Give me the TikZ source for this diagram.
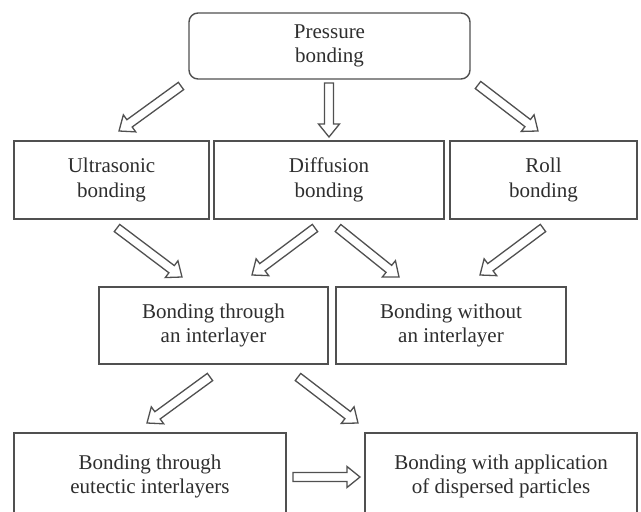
\documentclass[tikz,border=0pt]{standalone}
\usepackage{fontspec}
\setmainfont{Liberation Serif}
\usetikzlibrary{calc}
\definecolor{txt}{HTML}{2E2E2E}
\definecolor{ln}{HTML}{505050}
\tikzset{
  box/.style={draw=ln, line width=1.4pt, text=txt, align=center,
    font=\fontsize{21}{24.5}\selectfont, inner sep=0pt},
  barrow/.style={draw=ln, line width=1.3pt, fill=white, line join=miter},
}
\newcommand\blockarrow[2]{%
  \coordinate (tmpH) at ($(#2)!13pt!(#1)$);
  \draw[barrow] ($(#1)!4.5pt!90:(#2)$) -- ($(tmpH)!4.5pt!90:(#2)$)
    -- ($(tmpH)!10.5pt!90:(#2)$) -- (#2) -- ($(tmpH)!10.5pt!-90:(#2)$)
    -- ($(tmpH)!4.5pt!-90:(#2)$) -- ($(#1)!4.5pt!-90:(#2)$) -- cycle;}
\begin{document}
\begin{tikzpicture}[x=1pt,y=-1pt]
\path[use as bounding box, clip] (0,0) rectangle (641,512);
\fill[white] (0,0) rectangle (641,512);
% boxes
\node[box, minimum width=281, minimum height=66, rounded corners=9] (P) at (329.5,46) {Pressure\\bonding};
\node[box, minimum width=195, minimum height=78] (U) at (111.5,180) {Ultrasonic\\bonding};
\node[box, minimum width=230, minimum height=78] (D) at (329,180) {Diffusion\\bonding};
\node[box, minimum width=187, minimum height=78] (R) at (543.5,180) {Roll\\bonding};
\node[box, minimum width=229, minimum height=77] (T) at (213.5,325.5) {Bonding through\\an interlayer};
\node[box, minimum width=230, minimum height=77] (W) at (451,325.5) {Bonding without\\an interlayer};
\node[box, minimum width=272, minimum height=87] (E) at (150,476.5) {Bonding through\\eutectic interlayers};
\node[box, minimum width=272, minimum height=87] (S) at (501,476.5) {Bonding with application\\of dispersed particles};
% arrow ends
\coordinate (a1s) at (181,86);  \coordinate (a1e) at (119,131);
\coordinate (a2s) at (329,83);  \coordinate (a2e) at (329,137);
\coordinate (a3s) at (478,85);  \coordinate (a3e) at (538,131);
\coordinate (a4s) at (117,228); \coordinate (a4e) at (182,277);
\coordinate (a5s) at (315,228); \coordinate (a5e) at (252,275);
\coordinate (a6s) at (338,228); \coordinate (a6e) at (399,277);
\coordinate (a7s) at (543,228); \coordinate (a7e) at (480,275);
\coordinate (a8s) at (210,377); \coordinate (a8e) at (147,423);
\coordinate (a9s) at (298,377); \coordinate (a9e) at (358,423);
\coordinate (a10s) at (293,477); \coordinate (a10e) at (360,477);
\blockarrow{a1s}{a1e}
\blockarrow{a2s}{a2e}
\blockarrow{a3s}{a3e}
\blockarrow{a4s}{a4e}
\blockarrow{a5s}{a5e}
\blockarrow{a6s}{a6e}
\blockarrow{a7s}{a7e}
\blockarrow{a8s}{a8e}
\blockarrow{a9s}{a9e}
\blockarrow{a10s}{a10e}
\end{tikzpicture}
\end{document}
